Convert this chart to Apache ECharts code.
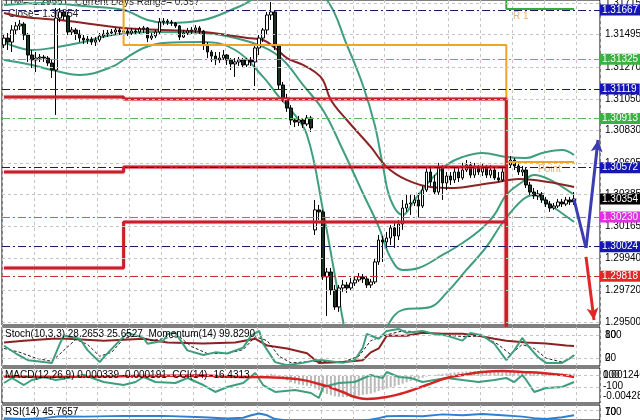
<!DOCTYPE html>
<html><head><meta charset="utf-8">
<script src="https://cdn.jsdelivr.net/npm/echarts@6/dist/echarts.min.js"></script>
<style>html,body{margin:0;padding:0;background:#fff}#c{width:640px;height:420px}</style>
</head><body><div id="c"></div>
<script>
// ---------- DATA ----------
const slotCount = 150;            // bar slots on the time axis (incl. chart shift)
const lastBar = 143;
// candles [open, close, low, high]
const ohlc = [
[1.31424,1.31472,1.31403,1.31493],[1.31472,1.31444,1.31389,1.31507],[1.31444,1.31528,1.31375,1.31562],[1.31528,1.31556,1.31493,1.31583],
[1.31556,1.31569,1.31528,1.31597],[1.31569,1.31493,1.31458,1.31583],[1.31493,1.31354,1.31306,1.31507],[1.31354,1.31320,1.31264,1.31389],
[1.31320,1.31333,1.31236,1.31375],[1.31333,1.31340,1.31306,1.31361],[1.31340,1.31333,1.31306,1.31354],[1.31333,1.31299,1.31278,1.31347],
[1.31299,1.31250,1.31195,1.31320],[1.31250,1.31611,1.30938,1.31680],[1.31611,1.31653,1.31583,1.31680],[1.31653,1.31625,1.31597,1.31667],
[1.31625,1.31514,1.31493,1.31653],[1.31514,1.31528,1.31493,1.31549],[1.31528,1.31500,1.31458,1.31542],[1.31500,1.31472,1.31444,1.31528],
[1.31472,1.31458,1.31431,1.31493],[1.31458,1.31465,1.31431,1.31486],[1.31465,1.31444,1.31424,1.31479],[1.31444,1.31458,1.31417,1.31479],
[1.31458,1.31486,1.31444,1.31507],[1.31486,1.31500,1.31472,1.31528],[1.31500,1.31507,1.31479,1.31528],[1.31507,1.31514,1.31486,1.31535],
[1.31514,1.31528,1.31493,1.31542],[1.31528,1.31514,1.31493,1.31542],[1.31514,1.31521,1.31500,1.31542],[1.31521,1.31507,1.31486,1.31535],
[1.31507,1.31521,1.31493,1.31542],[1.31521,1.31514,1.31493,1.31535],[1.31514,1.31535,1.31500,1.31549],[1.31535,1.31542,1.31507,1.31556],
[1.31542,1.31472,1.31444,1.31549],[1.31472,1.31486,1.31458,1.31507],[1.31486,1.31514,1.31472,1.31528],[1.31514,1.31583,1.31493,1.31611],
[1.31583,1.31590,1.31562,1.31611],[1.31590,1.31583,1.31562,1.31604],[1.31583,1.31576,1.31556,1.31597],[1.31576,1.31556,1.31542,1.31583],
[1.31556,1.31479,1.31458,1.31562],[1.31479,1.31507,1.31472,1.31528],[1.31507,1.31521,1.31493,1.31542],[1.31521,1.31528,1.31500,1.31549],
[1.31528,1.31542,1.31507,1.31562],[1.31542,1.31521,1.31500,1.31556],[1.31521,1.31424,1.31389,1.31528],[1.31424,1.31375,1.31333,1.31444],
[1.31375,1.31347,1.31306,1.31389],[1.31347,1.31320,1.31285,1.31375],[1.31320,1.31333,1.31299,1.31375],[1.31333,1.31354,1.31320,1.31389],
[1.31354,1.31320,1.31285,1.31361],[1.31320,1.31292,1.31250,1.31333],[1.31292,1.31306,1.31202,1.31333],[1.31306,1.31320,1.31278,1.31340],
[1.31320,1.31285,1.31264,1.31333],[1.31285,1.31320,1.31271,1.31333],[1.31320,1.31306,1.31278,1.31340],[1.31306,1.31403,1.31139,1.31424],
[1.31403,1.31472,1.31354,1.31493],[1.31472,1.31528,1.31444,1.31542],[1.31528,1.31632,1.31493,1.31653],[1.31632,1.31653,1.31597,1.31722],
[1.31653,1.31417,1.31389,1.31667],[1.31417,1.31146,1.31111,1.31431],[1.31146,1.31056,1.31028,1.31167],[1.31056,1.30986,1.30959,1.31084],
[1.30986,1.30903,1.30868,1.31007],[1.30903,1.30889,1.30854,1.30917],[1.30889,1.30903,1.30861,1.30931],[1.30903,1.30875,1.30848,1.30917],
[1.30875,1.30917,1.30861,1.30938],[1.30917,1.30848,1.30820,1.30931],[1.30140,1.30279,1.30105,1.30348],[1.30279,1.30265,1.30209,1.30313],
[1.30265,1.29814,1.29793,1.30279],[1.29814,1.29848,1.29543,1.29876],[1.29848,1.29723,1.29689,1.29876],[1.29723,1.29605,1.29585,1.29758],
[1.29605,1.29737,1.29571,1.29758],[1.29737,1.29758,1.29710,1.29793],[1.29758,1.29737,1.29703,1.29779],[1.29737,1.29772,1.29723,1.29807],
[1.29772,1.29793,1.29751,1.29821],[1.29793,1.29814,1.29779,1.29841],[1.29814,1.29800,1.29772,1.29834],[1.29800,1.29758,1.29737,1.29821],
[1.29758,1.29779,1.29737,1.29800],[1.29779,1.29918,1.29765,1.29945],[1.29918,1.30070,1.29897,1.30105],[1.30070,1.30056,1.29918,1.30098],
[1.30056,1.30084,1.30015,1.30126],[1.30084,1.30154,1.30035,1.30174],[1.30154,1.30098,1.30015,1.30195],[1.30098,1.30181,1.30070,1.30209],
[1.30181,1.30292,1.30140,1.30348],[1.30292,1.30320,1.30265,1.30383],[1.30320,1.30327,1.30244,1.30383],[1.30327,1.30348,1.30306,1.30383],
[1.30348,1.30306,1.30223,1.30396],[1.30306,1.30417,1.30292,1.30445],[1.30417,1.30542,1.30403,1.30570],[1.30542,1.30473,1.30445,1.30570],
[1.30473,1.30403,1.30383,1.30521],[1.30403,1.30570,1.30383,1.30605],[1.30570,1.30466,1.30348,1.30591],[1.30466,1.30514,1.30417,1.30542],
[1.30514,1.30487,1.30452,1.30542],[1.30487,1.30542,1.30466,1.30570],[1.30542,1.30501,1.30473,1.30570],[1.30501,1.30556,1.30487,1.30605],
[1.30556,1.30591,1.30542,1.30625],[1.30591,1.30521,1.30501,1.30612],[1.30521,1.30570,1.30501,1.30605],[1.30570,1.30542,1.30521,1.30591],
[1.30542,1.30570,1.30514,1.30598],[1.30570,1.30521,1.30501,1.30591],[1.30521,1.30556,1.30501,1.30591],[1.30556,1.30501,1.30487,1.30584],
[1.30501,1.30487,1.30473,1.30542],[1.30487,1.30542,1.30473,1.30570],[1.30542,1.30591,1.30521,1.30625],[1.30591,1.30625,1.30570,1.30653],
[1.30625,1.30584,1.30556,1.30639],[1.30584,1.30542,1.30521,1.30605],[1.30542,1.30556,1.30514,1.30584],[1.30556,1.30452,1.30431,1.30570],
[1.30452,1.30403,1.30383,1.30473],[1.30403,1.30376,1.30355,1.30431],[1.30376,1.30390,1.30348,1.30417],[1.30390,1.30348,1.30327,1.30403],
[1.30348,1.30320,1.30299,1.30369],[1.30320,1.30292,1.30265,1.30341],[1.30292,1.30306,1.30279,1.30327],[1.30306,1.30334,1.30292,1.30355],
[1.30334,1.30320,1.30299,1.30355],[1.30320,1.30348,1.30306,1.30369],[1.30348,1.30334,1.30313,1.30369],[1.30334,1.30355,1.30313,1.30403]
];
// Bollinger bands / moving average, read at knots [bar, price]
const upperBand = [[0,1.31701],[10,1.31715],[20,1.31694],[30,1.31667],[36,1.31597],[41,1.31576],[50,1.31597],[57,1.31667],[62,1.31736],[67,1.31875],[74,1.31875],[81,1.31736],[86,1.31424],[90,1.31146],[93,1.30868],[95,1.30591],[97,1.30348],[100,1.30244],[103,1.30348],[107,1.30487],[111,1.30591],[115,1.30646],[120,1.30674],[126,1.30646],[131,1.30639],[135,1.30674],[140,1.30695],[143,1.30660]];
const midBand = [[0,1.31444],[7,1.31389],[12,1.31403],[20,1.31444],[27,1.31493],[37,1.31514],[50,1.31507],[58,1.31472],[65,1.31410],[70,1.31320],[75,1.31146],[80,1.30972],[85,1.30695],[90,1.30396],[94,1.30161],[97,1.29945],[100,1.29862],[104,1.29876],[110,1.29966],[115,1.30049],[120,1.30154],[123,1.30244],[126,1.30383],[130,1.30473],[133,1.30521],[137,1.30487],[143,1.30383]];
const lowerBand = [[0,1.31320],[7,1.31285],[12,1.31250],[19,1.31216],[27,1.31271],[31,1.31340],[35,1.31403],[40,1.31438],[50,1.31444],[58,1.31389],[65,1.31202],[69,1.31063],[72,1.30972],[76,1.30799],[80,1.30279],[85,1.29515],[87,1.29238],[92,1.29238],[96,1.29467],[100,1.29585],[107,1.29605],[111,1.29703],[116,1.29862],[121,1.30022],[125,1.30188],[130,1.30348],[133,1.30383],[137,1.30313],[143,1.30195]];
const maLine = [[0,1.31646],[5,1.31618],[14,1.31597],[30,1.31542],[40,1.31528],[50,1.31514],[56,1.31493],[61,1.31472],[65,1.31458],[68,1.31403],[71,1.31333],[75,1.31285],[78,1.31236],[80,1.31181],[82,1.31042],[86,1.30903],[92,1.30716],[96,1.30577],[101,1.30487],[107,1.30438],[113,1.30431],[119,1.30452],[124,1.30473],[129,1.30494],[133,1.30487],[138,1.30466],[143,1.30438]];
// daily pivot-type levels: value per day, days start at these bars
const dayStart = [0, 30, 126];
const pivotLevel = [1.31850, 1.31424, 1.30612];
const r1Level = [1.31950, 1.31900, 1.31674];
const redLevelA = [1.31063, 1.31049, 1.29300];
const redLevelB = [1.30542, 1.30577, 1.29300];
const redLevelC = [1.29876, 1.30195, 1.29300];
// horizontal marked levels
const levelValues = [1.31667, 1.31325, 1.31119, 1.30913, 1.30572, 1.30354, 1.30230, 1.30024, 1.29818];
const priceTicks = [1.29500, 1.29720, 1.29940, 1.30165, 1.30385, 1.30605, 1.30830, 1.31050, 1.31270, 1.31495, 1.31715];
// projection arrows [bar, price]
const projUp = [[143,1.30348],[146,1.30015],[149,1.30764]];
const projDown = [[146,1.29953],[148,1.29515]];
// indicators
const stochK = [[0,52],[3,32],[6,15],[10,10],[12,8],[14,57],[15,78],[19,70],[21,40],[24,10],[25,22],[29,65],[31,85],[35,72],[36,57],[40,65],[41,82],[43,85],[46,40],[50,28],[53,35],[56,32],[60,47],[62,78],[64,90],[65,57],[68,10],[71,2],[75,8],[78,15],[80,15],[85,8],[88,15],[90,47],[91,82],[94,70],[96,90],[99,95],[101,85],[105,90],[108,82],[111,78],[115,65],[117,85],[120,78],[123,57],[126,15],[128,40],[130,72],[131,57],[134,22],[136,8],[140,8],[142,20],[143,28.27]];
const stochD = [[0,45],[4,35],[8,20],[12,12],[15,40],[18,68],[21,55],[24,25],[27,35],[30,70],[33,78],[37,65],[41,72],[44,75],[47,50],[51,32],[56,32],[60,42],[63,75],[66,65],[69,25],[72,8],[78,12],[85,10],[89,25],[92,65],[96,80],[100,90],[106,86],[112,78],[116,75],[120,78],[124,55],[127,30],[130,55],[133,45],[136,20],[140,10],[143,25.65]];
const momentum = [[0,100.0],[5,100.1],[12,100.2],[16,100.2],[25,100.1],[35,100.2],[41,100.0],[50,99.95],[58,100.0],[63,100.2],[66,99.85],[71,99.7],[76,99.45],[79,98.95],[85,99.0],[90,99.1],[92,99.5],[94,99.7],[96,100.35],[101,100.35],[105,100.5],[110,100.45],[115,100.45],[119,100.35],[123,100.2],[126,100.1],[131,100.0],[136,99.95],[141,99.85],[143,99.83]];
const macdHist = [
-0.00020,-0.00022,-0.00018,-0.00015,-0.00014,-0.00020,
-0.00030,-0.00038,-0.00042,-0.00045,-0.00046,-0.00048,-0.00052,
-0.00030,-0.00012,-0.00002,-0.00005,-0.00004,-0.00006,-0.00010,-0.00012,
-0.00013,-0.00014,-0.00012,-0.00008,-0.00004,0.00000,0.00003,0.00006,0.00007,0.00008,
0.00008,0.00009,0.00010,0.00012,0.00013,0.00008,0.00006,0.00007,0.00012,0.00015,
0.00017,0.00018,0.00018,0.00012,0.00010,0.00009,0.00009,0.00010,0.00010,0.00004,
-0.00005,-0.00014,-0.00022,-0.00028,-0.00030,-0.00034,-0.00038,-0.00040,-0.00040,-0.00042,-0.00040,-0.00040,
-0.00025,-0.00010,0.00005,0.00020,0.00032,0.00020,
-0.00010,-0.00040,-0.00070,-0.00098,-0.00120,-0.00136,-0.00148,-0.00155,-0.00165,
-0.00200,-0.00225,-0.00262,-0.00285,-0.00305,-0.00322,-0.00330,-0.00335,-0.00334,
-0.00330,-0.00322,-0.00312,-0.00300,-0.00290,-0.00280,-0.00260,-0.00238,-0.00220,
-0.00200,-0.00182,-0.00165,-0.00145,-0.00122,-0.00100,-0.00080,-0.00062,-0.00045,-0.00030,
-0.00012,0.00002,0.00012,0.00025,0.00032,0.00040,0.00048,0.00054,0.00060,0.00064,
0.00070,0.00072,0.00075,0.00078,0.00080,0.00080,0.00078,0.00076,0.00072,0.00070,
0.00068,0.00066,0.00065,0.00064,0.00062,0.00058,0.00055,0.00052,0.00050,0.00048,
0.00046,0.00044,0.00042,0.00040,0.00038,0.00036,0.00035,0.00034];
const macdSignal = [[0,-0.00010],[16,-0.00012],[33,-0.00002],[50,0.00006],[58,-0.00015],[66,-0.00022],[74,-0.00055],[80,-0.00144],[85,-0.00255],[88,-0.00334],[91,-0.00365],[96,-0.00334],[101,-0.00255],[106,-0.00144],[111,-0.00033],[115,0.00014],[120,0.00061],[125,0.00077],[130,0.00061],[135,0.00046],[140,0.00014],[143,-0.00019]];
const cci = [[0,-33],[2,50],[5,-67],[7,17],[10,67],[13,17],[16,50],[20,100],[25,-17],[30,-67],[33,-17],[35,67],[38,-17],[43,-33],[46,50],[50,-67],[53,-183],[56,-100],[60,-33],[63,133],[65,-67],[68,-183],[73,-150],[77,-200],[79,-283],[80,-100],[84,-33],[88,-17],[92,100],[95,50],[96,150],[99,67],[102,50],[105,-17],[108,17],[111,50],[115,17],[119,-17],[123,17],[126,50],[128,-17],[130,100],[131,17],[133,-183],[136,-117],[140,-100],[143,-16.43]];
const rsi = [[0,30],[5,25],[10,30],[14,40],[20,38],[30,42],[40,42],[50,35],[56,28],[60,32],[62,45],[64,55],[66,45],[68,25],[72,15],[78,10],[85,8],[90,15],[94,30],[96,40],[100,42],[105,40],[110,50],[115,45],[120,52],[125,45],[130,38],[133,30],[136,25],[140,35],[143,45.77]];

// ---------- CHART ----------
const FONT = 'Liberation Sans';
const cats = []; for (let i = 0; i < slotCount; i++) cats.push(String(i));
function stepLine(vals) {
  const d = [];
  for (let k = 0; k < vals.length; k++) {
    const end = k + 1 < dayStart.length ? dayStart[k + 1] : lastBar;
    d.push([dayStart[k], vals[k]]); d.push([end, vals[k]]);
  }
  return d;
}
function xAx(gi) {
  return { type: 'category', gridIndex: gi, data: cats, boundaryGap: true,
    axisLine: { show: false }, axisTick: { show: false }, axisLabel: { show: false },
    splitLine: { show: true, interval: 7, lineStyle: { color: '#c4c4c4', type: [3, 3], width: 1 } } };
}
function yAx(gi, min, max) {
  return { type: 'value', gridIndex: gi, min: min, max: max, position: 'right',
    axisLine: { show: false }, axisTick: { show: false }, axisLabel: { show: false }, splitLine: { show: false } };
}
const gridStyle = { show: true, borderColor: '#000', borderWidth: 1, left: 2, right: 40 };
const GREEN = '#3f9e7c', MAROON = '#8c2323';
const levelColors = ['#1616b4', '#3cb043', '#1616b4', '#3cb043', '#1616b4', '#000000', '#e030e0', '#1616b4', '#e02828'];
const levelLineColors = ['#1a1a6e', '#5cb85c', '#1a1a6e', '#5cb85c', '#1a1a6e', 'rgba(0,0,0,0)', '#d050b0', '#1a1a6e', '#c03030'];
const hline = (v) => ({ yAxis: v });

const option = {
  animation: false,
  backgroundColor: '#ffffff',
  grid: [
    Object.assign({ top: 0, height: 325 }, gridStyle),
    Object.assign({ top: 327, height: 39 }, gridStyle),
    Object.assign({ top: 368, height: 35 }, gridStyle),
    Object.assign({ top: 405, height: 16 }, gridStyle)
  ],
  xAxis: [xAx(0), xAx(1), xAx(2), xAx(3)],
  yAxis: [
    yAx(0, 1.29480, 1.31736),
    yAx(1, 0, 100),
    yAx(1, 98.8, 100.8),
    yAx(2, -0.00428, 0.001246),
    yAx(2, -366.7, 216.7),
    yAx(3, 20, 100)
  ],
  series: [
    { type: 'line', xAxisIndex: 0, yAxisIndex: 0, data: [], symbol: 'none', z: 1,
      markLine: { silent: true, symbol: 'none', animation: false, precision: 6,
        lineStyle: { color: '#c4c4c4', type: [3, 3], width: 1 },
        label: { show: true, position: 'end', distance: 5, color: '#000', fontFamily: FONT, fontSize: 10,
          formatter: p => Number(p.value).toFixed(5) },
        data: priceTicks.map(hline) } },
    { type: 'line', xAxisIndex: 0, yAxisIndex: 0, data: upperBand, smooth: 0.4, symbol: 'none', lineStyle: { color: GREEN, width: 2 }, z: 2 },
    { type: 'line', xAxisIndex: 0, yAxisIndex: 0, data: midBand, smooth: 0.4, symbol: 'none', lineStyle: { color: GREEN, width: 2 }, z: 2 },
    { type: 'line', xAxisIndex: 0, yAxisIndex: 0, data: lowerBand, smooth: 0.4, symbol: 'none', lineStyle: { color: GREEN, width: 2 }, z: 2 },
    { type: 'line', xAxisIndex: 0, yAxisIndex: 0, data: maLine, smooth: 0.4, symbol: 'none', lineStyle: { color: MAROON, width: 2 }, z: 2 },
    { type: 'candlestick', xAxisIndex: 0, yAxisIndex: 0, data: ohlc, barWidth: 3, z: 3,
      itemStyle: { color: '#ffffff', color0: '#16331f', borderColor: '#000', borderColor0: '#000', borderWidth: 1 } },
    { type: 'line', xAxisIndex: 0, yAxisIndex: 0, data: stepLine(pivotLevel), symbol: 'none', lineStyle: { color: '#f0a424', width: 2 }, z: 4 },
    { type: 'line', xAxisIndex: 0, yAxisIndex: 0, data: stepLine(r1Level), symbol: 'none', lineStyle: { color: '#2fae3a', width: 2 }, z: 4 },
    { type: 'line', xAxisIndex: 0, yAxisIndex: 0, data: stepLine(redLevelA), symbol: 'none', lineStyle: { color: '#c8202a', width: 3, shadowColor: 'rgba(230,80,100,0.5)', shadowBlur: 2 }, z: 4 },
    { type: 'line', xAxisIndex: 0, yAxisIndex: 0, data: stepLine(redLevelB), symbol: 'none', lineStyle: { color: '#c8202a', width: 3, shadowColor: 'rgba(230,80,100,0.5)', shadowBlur: 2 }, z: 4 },
    { type: 'line', xAxisIndex: 0, yAxisIndex: 0, data: stepLine(redLevelC), symbol: 'none', lineStyle: { color: '#c8202a', width: 3, shadowColor: 'rgba(230,80,100,0.5)', shadowBlur: 2 }, z: 4 },
    { type: 'line', xAxisIndex: 0, yAxisIndex: 0, data: [], symbol: 'none', z: 5,
      markLine: { silent: true, symbol: 'none', animation: false, precision: 6,
        data: levelValues.map((v, i) => ({ yAxis: v,
          lineStyle: { color: levelLineColors[i], type: [8, 3, 2, 3], width: 1 },
          label: { show: true, position: 'end', distance: 0, color: '#fff', fontFamily: FONT, fontSize: 10,
            backgroundColor: levelColors[i], padding: [1, 3, 0, 2], formatter: p => Number(p.value).toFixed(5) } })) } },
    { type: 'line', xAxisIndex: 0, yAxisIndex: 0, data: [], symbol: 'none', z: 6,
      markLine: { silent: true, animation: false, precision: 6, symbolSize: [9, 12],
        lineStyle: { color: '#3c3cb4', width: 3, type: 'solid' }, label: { show: false },
        data: [
          [{ coord: projUp[0], symbol: 'none' }, { coord: projUp[1], symbol: 'none' }],
          [{ coord: projUp[1], symbol: 'none' }, { coord: projUp[2], symbol: 'arrow' }],
          [{ coord: projDown[0], symbol: 'none', lineStyle: { color: '#e02828', width: 3 } }, { coord: projDown[1], symbol: 'arrow' }]
        ] } },
    // Stoch / momentum
    { type: 'line', xAxisIndex: 1, yAxisIndex: 1, data: [], symbol: 'none',
      markLine: { silent: true, symbol: 'none', label: { show: false }, lineStyle: { color: '#c4c4c4', type: [3, 3], width: 1 }, data: [hline(20), hline(80)] } },
    { type: 'line', xAxisIndex: 1, yAxisIndex: 2, data: momentum, symbol: 'none', lineStyle: { color: MAROON, width: 2 } },
    { type: 'line', xAxisIndex: 1, yAxisIndex: 1, data: stochD, symbol: 'none', lineStyle: { color: '#222', width: 1, type: [3, 2] } },
    { type: 'line', xAxisIndex: 1, yAxisIndex: 1, data: stochK, symbol: 'none', lineStyle: { color: GREEN, width: 2 } },
    // MACD / CCI
    { type: 'bar', xAxisIndex: 2, yAxisIndex: 3, data: macdHist, barWidth: 2, itemStyle: { color: '#b9b9b9' } },
    { type: 'line', xAxisIndex: 2, yAxisIndex: 4, data: cci, symbol: 'none', lineStyle: { color: GREEN, width: 2 },
      markLine: { silent: true, symbol: 'none', label: { show: false }, lineStyle: { color: '#c4c4c4', type: [3, 3], width: 1 }, data: [hline(100), hline(-100)] } },
    { type: 'line', xAxisIndex: 2, yAxisIndex: 3, data: macdSignal, smooth: 0.4, symbol: 'none', lineStyle: { color: '#d42424', width: 2.5 } },
    // RSI
    { type: 'line', xAxisIndex: 3, yAxisIndex: 5, data: rsi, symbol: 'none', lineStyle: { color: '#2f7fd0', width: 2 },
      markLine: { silent: true, symbol: 'none', label: { show: false }, lineStyle: { color: '#c4c4c4', type: [3, 3], width: 1 }, data: [hline(70)] } }
  ],
  graphic: [
    { type: 'text', left: 5, top: -3, z: 0, style: { text: 'Low= 1.29551', font: '10px ' + FONT, fill: '#222' } },
    { type: 'text', left: 75, top: -3, z: 0, style: { text: 'Current Days Range= 0.397', font: '10px ' + FONT, fill: '#222' } },
    { type: 'text', left: 8, top: 9, z: 0, style: { text: 'Close= 1.30354', font: '10px ' + FONT, fill: '#222' } },
    { type: 'text', left: 513, top: 11, z: 0, style: { text: 'R 1', font: '10px ' + FONT, fill: '#e8b070' } },
    { type: 'text', left: 538, top: 164, z: 0, style: { text: 'Point', font: '10px ' + FONT, fill: '#e8b070' } },
    { type: 'text', left: 5, top: 329, z: 10, style: { text: 'Stoch(10,3,3) 28.2653 25.6527  Momentum(14) 99.8290', font: '10px ' + FONT, fill: '#000' } },
    { type: 'text', left: 5, top: 370, z: 10, style: { text: 'MACD(12,26,9) 0.000339 -0.000191  CCI(14) -16.4313', font: '10px ' + FONT, fill: '#000' } },
    { type: 'text', left: 5, top: 407, z: 10, style: { text: 'RSI(14) 45.7657', font: '10px ' + FONT, fill: '#000' } },
    { type: 'text', left: 605, top: 330, style: { text: '100', font: '10px ' + FONT, fill: '#000' } },
    { type: 'text', left: 605, top: 330, style: { text: '80', font: '10px ' + FONT, fill: '#000' } },
    { type: 'text', left: 605, top: 353, style: { text: '20', font: '10px ' + FONT, fill: '#000' } },
    { type: 'text', left: 605, top: 353, style: { text: '0', font: '10px ' + FONT, fill: '#000' } },
    { type: 'text', left: 603, top: 370, style: { text: '0.001246', font: '10px ' + FONT, fill: '#000' } },
    { type: 'text', left: 603, top: 370, style: { text: '100', font: '10px ' + FONT, fill: '#000' } },
    { type: 'text', left: 603, top: 381, style: { text: '-100', font: '10px ' + FONT, fill: '#000' } },
    { type: 'text', left: 603, top: 391, style: { text: '-0.00428', font: '10px ' + FONT, fill: '#000' } },
    { type: 'text', left: 605, top: 407, style: { text: '100', font: '10px ' + FONT, fill: '#000' } },
    { type: 'text', left: 605, top: 407, style: { text: '70', font: '10px ' + FONT, fill: '#000' } }
  ]
};
const chart = echarts.init(document.getElementById('c'), null, { renderer: 'canvas', width: 640, height: 420 });
chart.setOption(option);
</script>
</body></html>
